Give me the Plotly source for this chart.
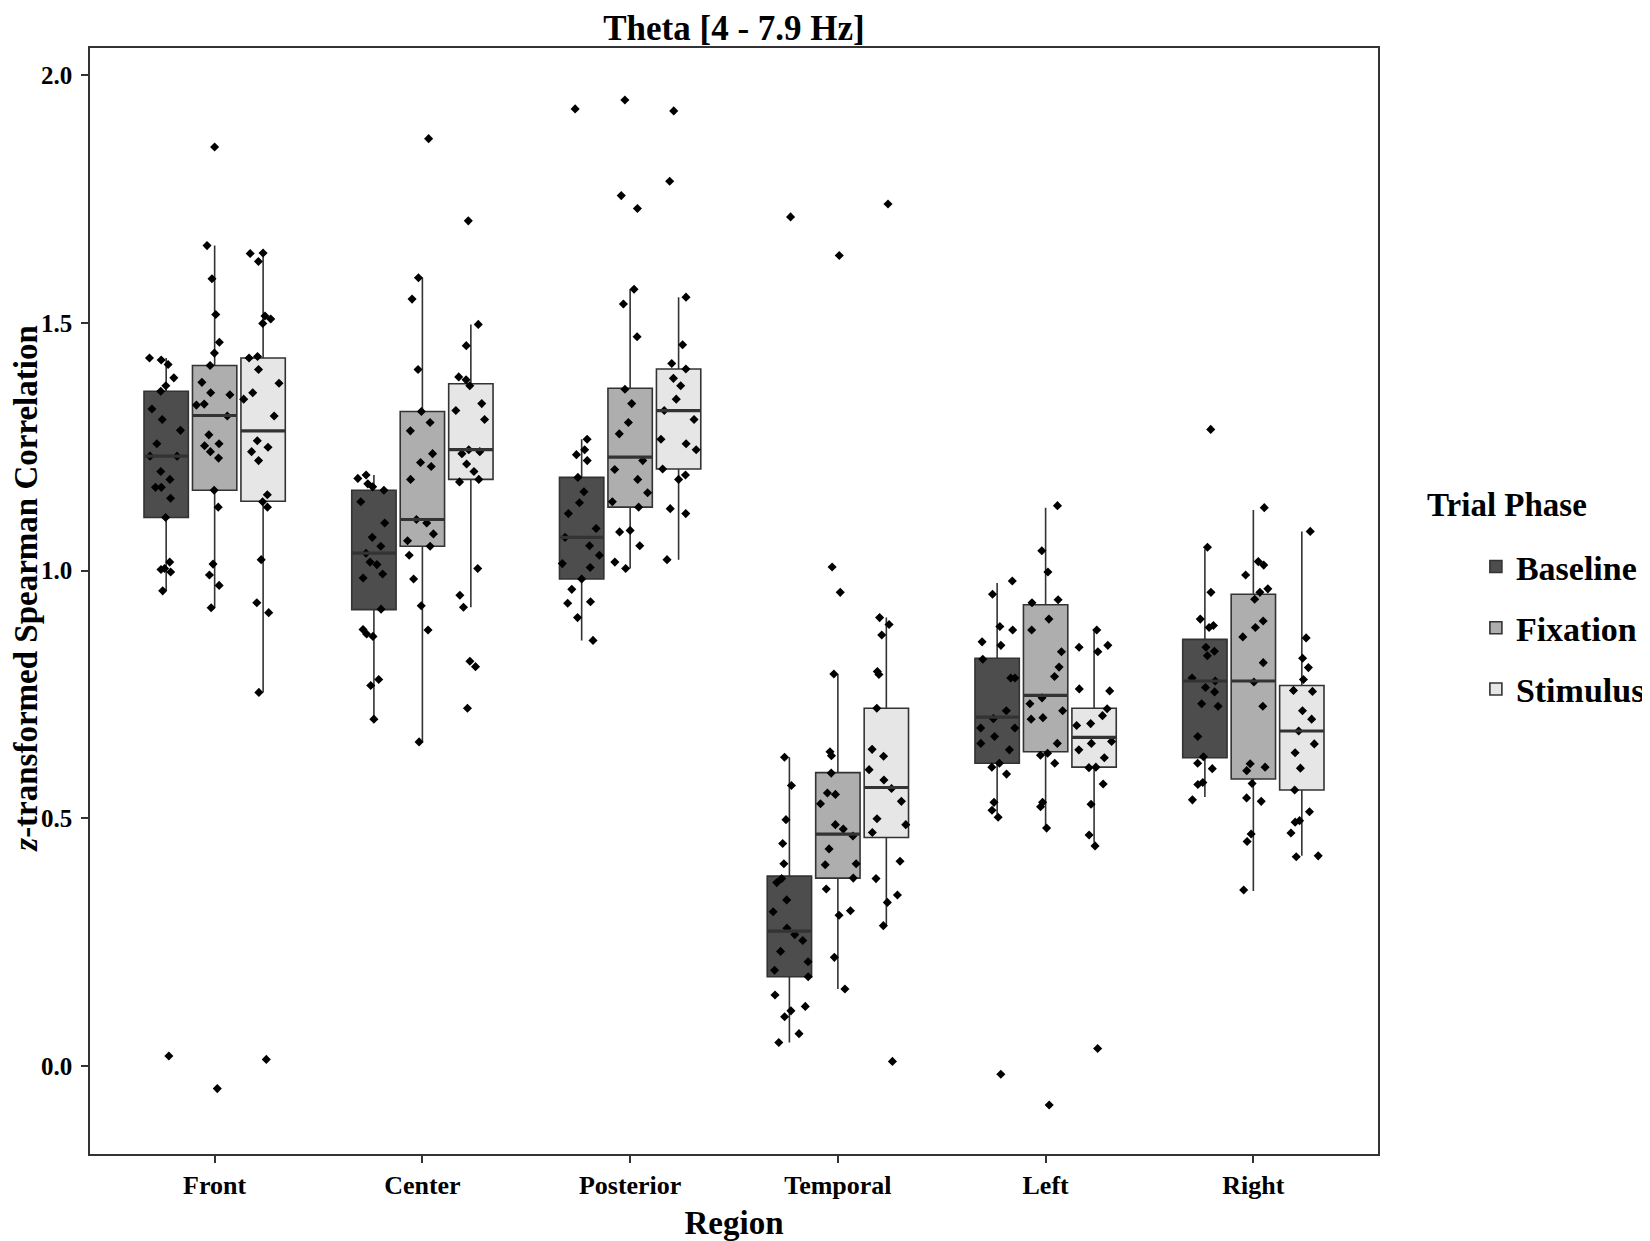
import plotly.graph_objects as go

regions = ["Front", "Center", "Posterior", "Temporal", "Left", "Right"]
phases = ["Baseline", "Fixation", "Stimulus"]
fills = {"Baseline": "#4D4D4D", "Fixation": "#AEAEAE", "Stimulus": "#E6E6E6"}

# box statistics per phase, in region order
q1 = {
    "Baseline": [1.107, 0.921, 0.983, 0.180, 0.611, 0.622],
    "Fixation": [1.162, 1.049, 1.128, 0.379, 0.634, 0.579],
    "Stimulus": [1.140, 1.184, 1.205, 0.461, 0.603, 0.557],
}
median = {
    "Baseline": [1.231, 1.035, 1.067, 0.272, 0.704, 0.777],
    "Fixation": [1.313, 1.103, 1.229, 0.468, 0.748, 0.777],
    "Stimulus": [1.282, 1.244, 1.323, 0.562, 0.663, 0.676],
}
q3 = {
    "Baseline": [1.362, 1.162, 1.188, 0.383, 0.823, 0.861],
    "Fixation": [1.414, 1.321, 1.368, 0.592, 0.931, 0.952],
    "Stimulus": [1.429, 1.377, 1.407, 0.722, 0.722, 0.768],
}
lowerfence = {
    "Baseline": [0.959, 0.700, 0.859, 0.047, 0.507, 0.543],
    "Fixation": [0.925, 0.654, 1.004, 0.155, 0.485, 0.353],
    "Stimulus": [0.754, 0.926, 1.022, 0.283, 0.451, 0.424],
}
upperfence = {
    "Baseline": [1.429, 1.193, 1.265, 0.623, 0.975, 1.043],
    "Fixation": [1.656, 1.591, 1.568, 0.791, 1.127, 1.122],
    "Stimulus": [1.641, 1.497, 1.552, 0.905, 0.879, 1.079],
}

# individual observations (jittered points)
front_baseline = [1.429, 1.425, 1.416, 1.389, 1.373, 1.362, 1.326, 1.305, 1.283, 1.256, 1.231, 1.231,
                  1.200, 1.184, 1.168, 1.168, 1.146, 1.107, 1.017, 1.004, 1.002, 0.997, 0.959, 0.020]
front_fixation = [1.855, 1.656, 1.589, 1.517, 1.461, 1.439, 1.414, 1.380, 1.359, 1.355, 1.336, 1.334,
                  1.312, 1.274, 1.256, 1.252, 1.240, 1.227, 1.162, 1.128, 1.013, 0.991, 0.970, 0.925, -0.046]
front_stimulus = [1.641, 1.640, 1.624, 1.514, 1.508, 1.499, 1.432, 1.429, 1.406, 1.378, 1.359, 1.346,
                  1.312, 1.262, 1.249, 1.240, 1.222, 1.153, 1.139, 1.128, 1.022, 0.935, 0.915, 0.754, 0.013]
center_baseline = [1.193, 1.186, 1.175, 1.169, 1.162, 1.139, 1.096, 1.067, 1.049, 1.035, 1.017, 1.012,
                   0.993, 0.985, 0.922, 0.881, 0.872, 0.867, 0.780, 0.768, 0.700]
center_fixation = [1.872, 1.591, 1.548, 1.406, 1.321, 1.299, 1.282, 1.236, 1.218, 1.210, 1.184, 1.103,
                   1.096, 1.074, 1.060, 1.049, 1.031, 0.983, 0.929, 0.880, 0.654]
center_stimulus = [1.706, 1.497, 1.454, 1.391, 1.385, 1.373, 1.337, 1.323, 1.305, 1.244, 1.240, 1.236,
                   1.215, 1.200, 1.184, 1.179, 1.004, 0.950, 0.926, 0.817, 0.806, 0.722]
posterior_baseline = [1.932, 1.265, 1.244, 1.234, 1.222, 1.188, 1.159, 1.137, 1.115, 1.085, 1.067, 1.050,
                      1.031, 1.014, 1.006, 0.983, 0.962, 0.937, 0.934, 0.905, 0.859]
posterior_fixation = [1.950, 1.757, 1.731, 1.568, 1.538, 1.472, 1.366, 1.337, 1.299, 1.276, 1.222, 1.204,
                      1.184, 1.157, 1.139, 1.128, 1.081, 1.078, 1.050, 1.017, 1.004]
posterior_stimulus = [1.928, 1.786, 1.552, 1.456, 1.418, 1.407, 1.388, 1.373, 1.346, 1.323, 1.305, 1.265,
                      1.256, 1.244, 1.205, 1.193, 1.184, 1.125, 1.115, 1.022]
temporal_baseline = [1.714, 0.623, 0.566, 0.497, 0.449, 0.408, 0.378, 0.370, 0.335, 0.311, 0.278, 0.265,
                     0.253, 0.231, 0.210, 0.193, 0.180, 0.143, 0.120, 0.111, 0.099, 0.065, 0.047]
temporal_fixation = [1.636, 1.007, 0.956, 0.791, 0.634, 0.626, 0.591, 0.551, 0.548, 0.529, 0.487, 0.478,
                     0.464, 0.438, 0.408, 0.406, 0.379, 0.357, 0.313, 0.304, 0.219, 0.155]
temporal_stimulus = [1.740, 0.905, 0.891, 0.870, 0.796, 0.790, 0.722, 0.639, 0.625, 0.598, 0.577, 0.560,
                     0.534, 0.499, 0.487, 0.471, 0.413, 0.378, 0.345, 0.330, 0.283, 0.009]
left_baseline = [0.979, 0.952, 0.887, 0.880, 0.856, 0.849, 0.821, 0.783, 0.783, 0.717, 0.701, 0.682,
                 0.682, 0.665, 0.651, 0.638, 0.611, 0.603, 0.589, 0.532, 0.516, 0.502, -0.017]
left_fixation = [1.131, 1.040, 0.997, 0.941, 0.935, 0.902, 0.880, 0.836, 0.805, 0.786, 0.743, 0.731,
                 0.717, 0.703, 0.700, 0.651, 0.631, 0.627, 0.611, 0.532, 0.523, 0.480, -0.079]
left_stimulus = [0.880, 0.849, 0.845, 0.836, 0.761, 0.757, 0.721, 0.707, 0.691, 0.687, 0.655, 0.651,
                 0.638, 0.622, 0.603, 0.602, 0.569, 0.528, 0.466, 0.444, 0.035]
right_baseline = [1.285, 1.047, 0.956, 0.902, 0.889, 0.885, 0.845, 0.837, 0.828, 0.783, 0.777, 0.764,
                  0.755, 0.731, 0.726, 0.665, 0.624, 0.611, 0.600, 0.572, 0.568, 0.537]
right_fixation = [1.127, 1.018, 1.011, 0.991, 0.963, 0.956, 0.942, 0.898, 0.885, 0.866, 0.814, 0.775,
                  0.726, 0.610, 0.603, 0.596, 0.570, 0.541, 0.534, 0.468, 0.453, 0.355]
right_stimulus = [1.079, 0.864, 0.823, 0.804, 0.780, 0.758, 0.756, 0.717, 0.700, 0.676, 0.650, 0.632,
                  0.601, 0.557, 0.513, 0.495, 0.492, 0.470, 0.424, 0.422]

points = {
    "Baseline": [front_baseline, center_baseline, posterior_baseline, temporal_baseline, left_baseline, right_baseline],
    "Fixation": [front_fixation, center_fixation, posterior_fixation, temporal_fixation, left_fixation, right_fixation],
    "Stimulus": [front_stimulus, center_stimulus, posterior_stimulus, temporal_stimulus, left_stimulus, right_stimulus],
}

FONT = "Liberation Serif"
LINE = "#333333"

fig = go.Figure()
for ph in phases:
    # main box with whiskers and jittered observations
    fig.add_trace(go.Box(
        name=ph,
        x=regions,
        y=points[ph],
        q1=q1[ph], median=median[ph], q3=q3[ph],
        lowerfence=lowerfence[ph], upperfence=upperfence[ph],
        fillcolor=fills[ph],
        line=dict(color=LINE, width=1.6),
        whiskerwidth=0,
        boxpoints="all", jitter=0.9, pointpos=0,
        marker=dict(symbol="diamond", size=7, color="black", line=dict(width=0)),
        offsetgroup=ph, legendgroup=ph,
    ))
    # thicker median line (ggplot fatten)
    fig.add_trace(go.Box(
        name=ph,
        x=regions,
        q1=median[ph], median=median[ph], q3=median[ph],
        lowerfence=median[ph], upperfence=median[ph],
        fillcolor="rgba(0,0,0,0)",
        line=dict(color=LINE, width=3.2),
        whiskerwidth=0, boxpoints=False,
        offsetgroup=ph, legendgroup=ph, showlegend=False, hoverinfo="skip",
    ))

fig.update_layout(
    width=1650, height=1241,
    boxmode="group", boxgap=0.3, boxgroupgap=0.085,
    paper_bgcolor="white", plot_bgcolor="white",
    margin=dict(l=82, r=280, t=40, b=95, autoexpand=False),
    font=dict(family=FONT, color="black"),
    title=dict(text="Theta [4 - 7.9 Hz]", xref="paper", x=0.5, xanchor="center",
               yref="container", y=0.9839, yanchor="middle",
               font=dict(family=FONT, size=35, weight="bold", color="black")),
    legend=dict(
        font=dict(family=FONT, size=34, weight="bold"),
        x=1.076, xanchor="left", y=0.557, yanchor="top",
        tracegroupgap=14,
    ),
    annotations=[
        dict(text="Trial Phase", xref="paper", yref="paper", x=1.0365, y=0.5864,
             xanchor="left", yanchor="middle", showarrow=False,
             font=dict(family=FONT, size=33, weight="bold", color="black")),
        dict(text="<i>z</i>-transformed Spearman Correlation", xref="paper", yref="paper",
             x=-0.0497, y=0.512, xanchor="center", yanchor="middle", textangle=-90,
             showarrow=False, font=dict(family=FONT, size=33, weight="bold", color="black")),
    ],
    showlegend=True,
)
fig.update_xaxes(
    range=[-0.6, 5.6], showgrid=False, zeroline=False, automargin=False,
    showline=True, mirror=True, linecolor=LINE, linewidth=1.5,
    ticks="outside", ticklen=7, tickwidth=1.5, tickcolor=LINE,
    ticklabelstandoff=0,
    tickfont=dict(family=FONT, size=26, weight="bold", color="black"),
    title=dict(text="Region", font=dict(family=FONT, size=33, weight="bold"), standoff=12),
)
fig.update_yaxes(
    range=[-0.178, 2.055], showgrid=False, zeroline=False, automargin=False,
    showline=True, mirror=True, linecolor=LINE, linewidth=1.5,
    ticks="outside", ticklen=7, tickwidth=1.5, tickcolor=LINE,
    ticklabelstandoff=4,
    tickvals=[0.0, 0.5, 1.0, 1.5, 2.0], ticktext=["0.0", "0.5", "1.0", "1.5", "2.0"],
    tickfont=dict(family=FONT, size=25, weight="bold", color="black"),
)

fig.write_html("out.html")
